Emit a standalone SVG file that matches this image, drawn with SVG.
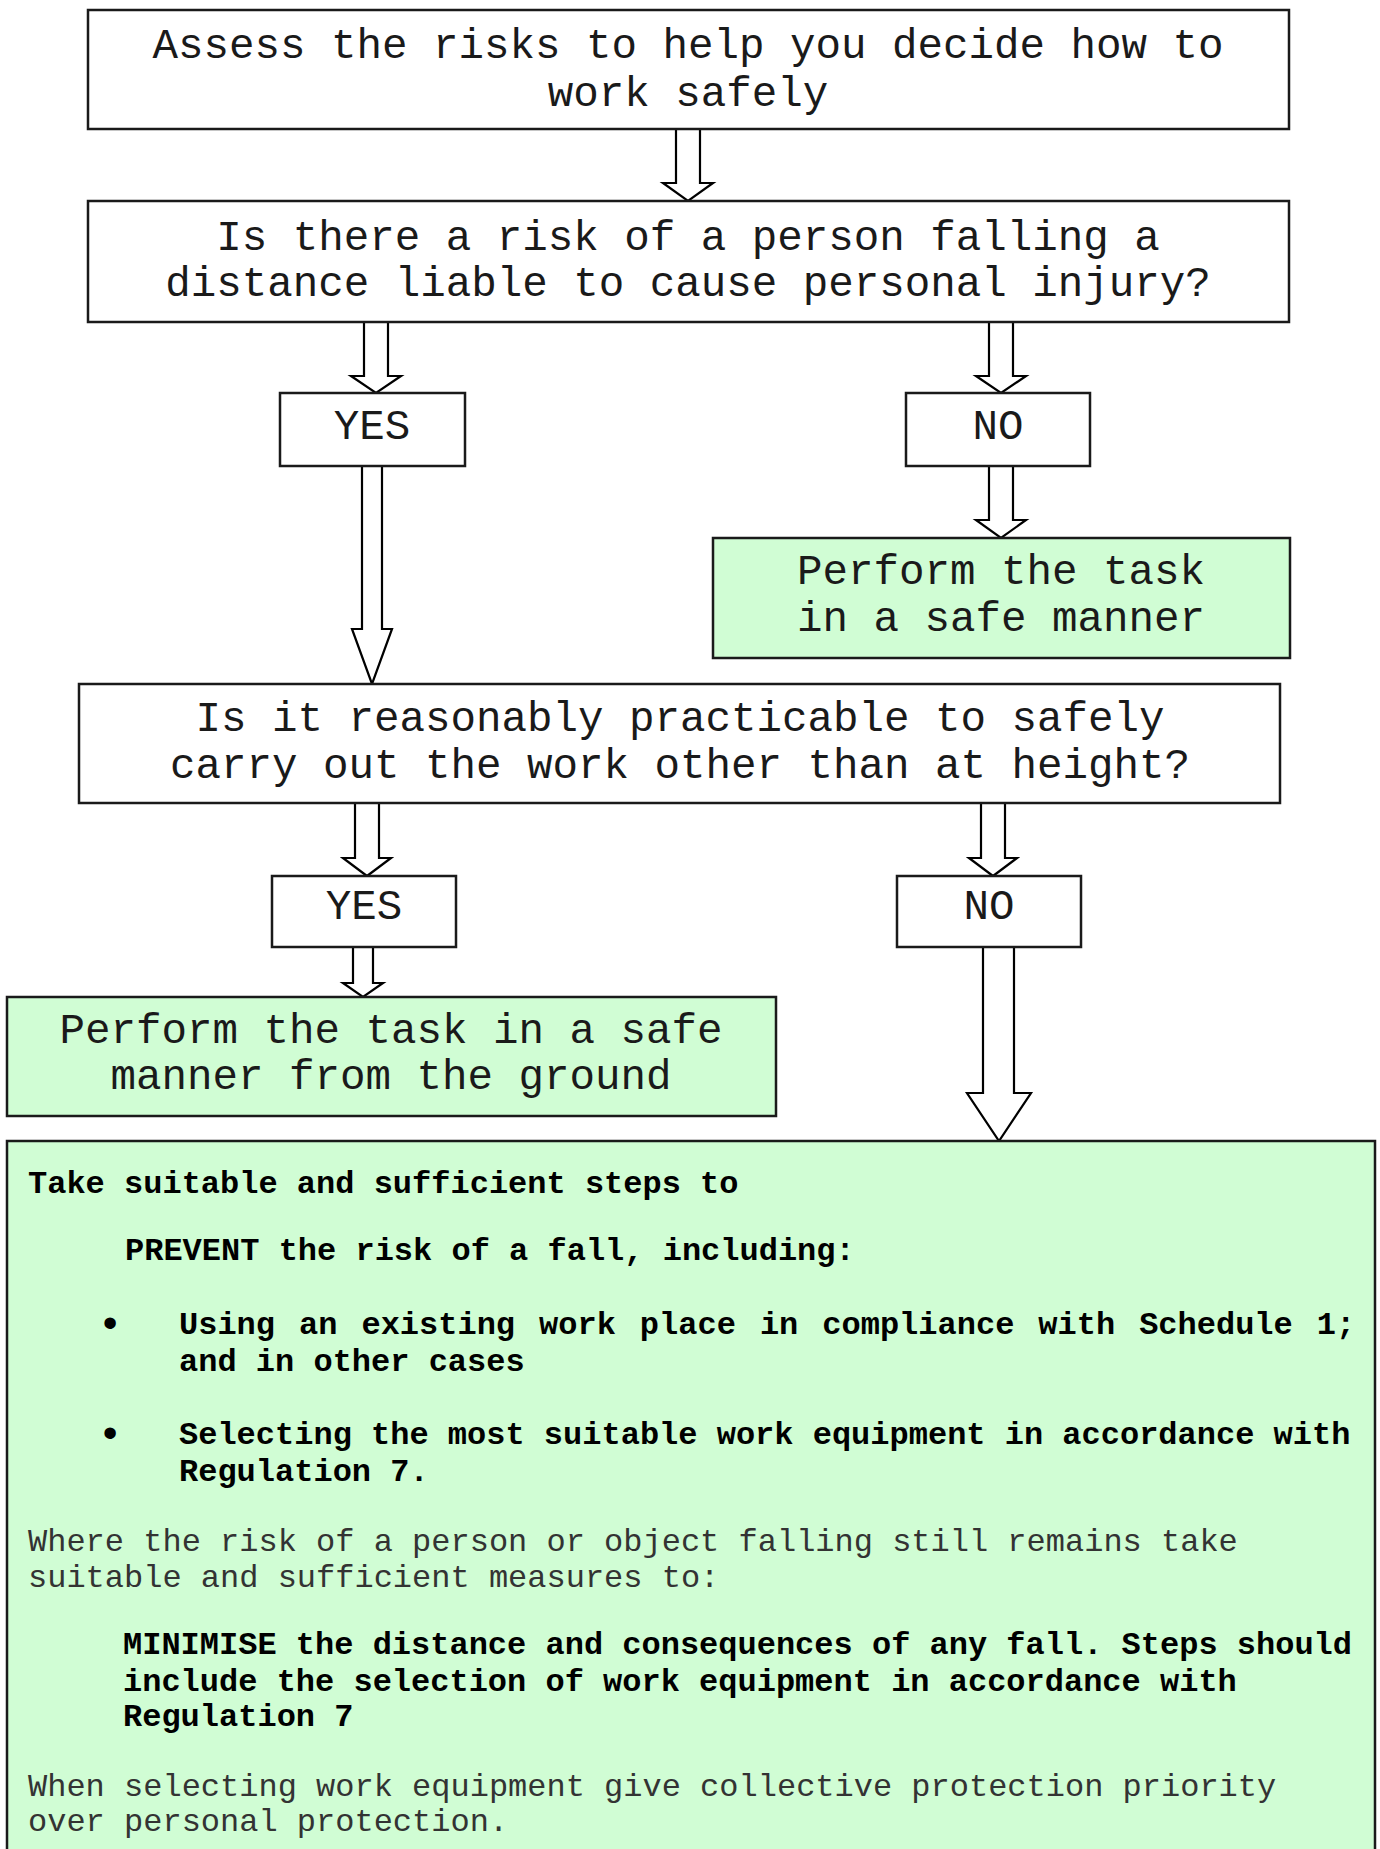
<svg xmlns="http://www.w3.org/2000/svg" width="1380" height="1849" viewBox="0 0 1380 1849">
<style>
.box{fill:#ffffff;stroke:#1a1a1a;stroke-width:2.5}
.green{fill:#d0fdd4;stroke:#1a1a1a;stroke-width:2.5}
.arrow{fill:#ffffff;stroke:#000000;stroke-width:2.2;stroke-linejoin:miter}
.t{font-family:"Liberation Mono","Courier New",monospace;font-size:42.5px;fill:#1a1a1a;text-anchor:middle}
.b{font-family:"Liberation Mono","Courier New",monospace;font-size:32px;font-weight:bold;fill:#000}
.r{font-family:"Liberation Mono","Courier New",monospace;font-size:32px;fill:#333}
.bul{font-family:"Liberation Sans",Arial,sans-serif;font-size:42px;fill:#000;text-anchor:middle}
</style>
<rect width="1380" height="1849" fill="#ffffff"/>
<g id="connectors">
<polygon class="arrow" points="676,129 700,129 700,183 713,183 688,201 663,183 676,183"/>
<polygon class="arrow" points="364,322 388,322 388,376 401,376 376,393 351,376 364,376"/>
<polygon class="arrow" points="989,322 1013,322 1013,376 1026,376 1001,393 976,376 989,376"/>
<polygon class="arrow" points="362,466 382,466 382,629 392,629 372,684 352,629 362,629"/>
<polygon class="arrow" points="989,466 1013,466 1013,520 1026,520 1001,538 976,520 989,520"/>
<polygon class="arrow" points="355,803 379,803 379,858 391,858 367,876 343,858 355,858"/>
<polygon class="arrow" points="981,803 1005,803 1005,858 1017,858 993,876 969,858 981,858"/>
<polygon class="arrow" points="353,947 373,947 373,983 383,983 363,997 343,983 353,983"/>
<polygon class="arrow" points="983,947 1014,947 1014,1093 1031,1093 999,1141 967,1093 983,1093"/>
</g>
<g id="n1">
<rect class="box" x="88" y="10" width="1201" height="119"/>
<text class="t" x="688" y="58">Assess the risks to help you decide how to</text>
<text class="t" x="688" y="106">work safely</text>
</g>
<g id="n2">
<rect class="box" x="88" y="201" width="1201" height="121"/>
<text class="t" x="688" y="250">Is there a risk of a person falling a</text>
<text class="t" x="688" y="296">distance liable to cause personal injury?</text>
</g>
<g id="n3">
<rect class="box" x="280" y="393" width="185" height="73"/>
<text class="t" x="372" y="439">YES</text>
</g>
<g id="n4">
<rect class="box" x="906" y="393" width="184" height="73"/>
<text class="t" x="998" y="439">NO</text>
</g>
<g id="n5">
<rect class="green" x="713" y="538" width="577" height="120"/>
<text class="t" x="1001" y="584">Perform the task</text>
<text class="t" x="1001" y="631">in a safe manner</text>
</g>
<g id="n6">
<rect class="box" x="79" y="684" width="1201" height="119"/>
<text class="t" x="680" y="731">Is it reasonably practicable to safely</text>
<text class="t" x="680" y="778">carry out the work other than at height?</text>
</g>
<g id="n7">
<rect class="box" x="272" y="876" width="184" height="71"/>
<text class="t" x="364" y="919">YES</text>
</g>
<g id="n8">
<rect class="box" x="897" y="876" width="184" height="71"/>
<text class="t" x="989" y="919">NO</text>
</g>
<g id="n9">
<rect class="green" x="7" y="997" width="769" height="119"/>
<text class="t" x="391" y="1043">Perform the task in a safe</text>
<text class="t" x="391" y="1089">manner from the ground</text>
</g>
<g id="n10">
<rect class="green" x="7" y="1141" width="1368" height="730"/>
<text class="b" x="28" y="1193">Take suitable and sufficient steps to</text>
<text class="b" x="125" y="1260">PREVENT the risk of a fall, including:</text>
<text class="bul" x="110" y="1337">•</text>
<text class="b" x="179" y="1334" word-spacing="4.8">Using an existing work place in compliance with Schedule 1;</text>
<text class="b" x="179" y="1371">and in other cases</text>
<text class="bul" x="110" y="1447">•</text>
<text class="b" x="179" y="1444">Selecting the most suitable work equipment in accordance with</text>
<text class="b" x="179" y="1481">Regulation 7.</text>
<text class="r" x="28" y="1551">Where the risk of a person or object falling still remains take</text>
<text class="r" x="28" y="1587">suitable and sufficient measures to:</text>
<text class="b" x="123" y="1654">MINIMISE the distance and consequences of any fall. Steps should</text>
<text class="b" x="123" y="1691">include the selection of work equipment in accordance with</text>
<text class="b" x="123" y="1726">Regulation 7</text>
<text class="r" x="28" y="1796">When selecting work equipment give collective protection priority</text>
<text class="r" x="28" y="1831">over personal protection.</text>
</g>
</svg>
